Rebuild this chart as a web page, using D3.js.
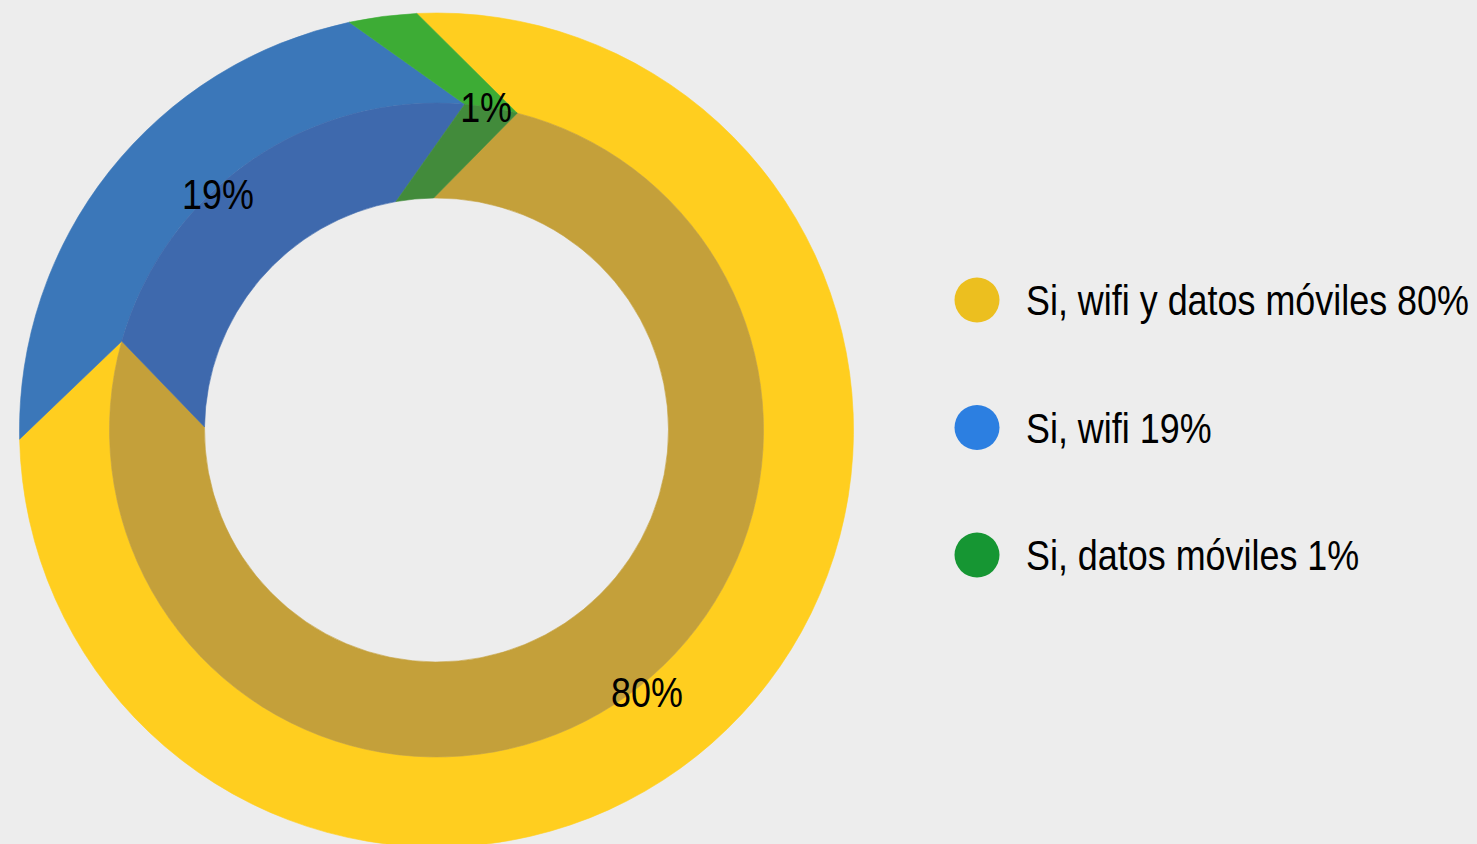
<!DOCTYPE html>
<html>
<head>
<meta charset="utf-8">
<script src="https://cdn.jsdelivr.net/npm/d3@7/dist/d3.min.js"></script>
<style>
  html, body { margin: 0; padding: 0; background: #ededed; }
  svg { display: block; }
  text { font-family: "Liberation Sans", Arial, sans-serif; }
</style>
</head>
<body>
<svg id="chart" width="1477" height="844"></svg>
<script>
// ---- data ----
const categories = ["Si, wifi y datos móviles", "Si, wifi", "Si, datos móviles"];
const percentValues = [80, 19, 1];            // the reported percentages
const sliceShares = [75.4, 22.0, 2.6];        // sweep of each slice as drawn in the picture
// ---- style ----
const outerColors = ["#ffce1f", "#3b77b9", "#3dac35"];
const innerColors = ["#c4a03a", "#3e69ad", "#428b3b"];
const legendColors = ["#ecbf1f", "#2c7fe1", "#169633"];

const W = 1477, H = 844;
const cx = 436.5, cy = 430;
const R_OUT = 417, R_MID = 327, R_IN = 232;
const rad = d => d * Math.PI / 180;
const START = rad(-1.7);
// angular twist of slice edges at each radius
const TW_OUT = rad(-1), TW_MID = rad(16), TW_IN = rad(1);
const LABEL_TWIST = [7.2, 7.9, 15.1];
const LABEL_R = [336, 322, 327];
const FONT_SIZE = 43;
const CONDENSE = 0.835;   // narrow (condensed) face

const svg = d3.select("#chart");
const g = svg.append("g").attr("transform", `translate(${cx},${cy})`);

const pie = d3.pie().sort(null).value(d => d).startAngle(START).endAngle(START + 2 * Math.PI);
const arcs = pie(sliceShares);

function pt(r, a) { return [r * Math.sin(a), -r * Math.cos(a)]; }
function band(a0, a1, rA, twA, rB, twB) {
  const p = d3.path();
  const s = pt(rA, a0 + twA);
  p.moveTo(s[0], s[1]);
  p.arc(0, 0, rA, a0 + twA - Math.PI / 2, a1 + twA - Math.PI / 2, false);
  const e = pt(rB, a1 + twB);
  p.lineTo(e[0], e[1]);
  p.arc(0, 0, rB, a1 + twB - Math.PI / 2, a0 + twB - Math.PI / 2, true);
  p.closePath();
  return p.toString();
}

g.selectAll("path.outer").data(arcs).join("path")
  .attr("class", "outer")
  .attr("d", d => band(d.startAngle, d.endAngle, R_OUT, TW_OUT, R_MID, TW_MID))
  .attr("fill", (d, i) => outerColors[i])
  .attr("stroke", (d, i) => outerColors[i])
  .attr("stroke-width", 0.6);

g.selectAll("path.inner").data(arcs).join("path")
  .attr("class", "inner")
  .attr("d", d => band(d.startAngle, d.endAngle, R_MID, TW_MID, R_IN, TW_IN))
  .attr("fill", (d, i) => innerColors[i])
  .attr("stroke", (d, i) => innerColors[i])
  .attr("stroke-width", 0.6);

// slice labels
g.selectAll("g.lbl").data(arcs).join("g")
  .attr("class", "lbl")
  .attr("transform", (d, i) => {
    const a = (d.startAngle + d.endAngle) / 2 + rad(LABEL_TWIST[i]);
    const p = pt(LABEL_R[i], a);
    return `translate(${p[0]},${p[1]}) scale(${CONDENSE},1)`;
  })
  .append("text")
  .attr("text-anchor", "middle")
  .attr("dy", "0.35em")
  .attr("font-size", FONT_SIZE)
  .attr("fill", "#000")
  .text((d, i) => percentValues[i] + "%");

// legend
const legendY = d3.scalePoint().domain(categories).range([300, 555]);
const leg = svg.append("g");
const items = leg.selectAll("g").data(categories).join("g")
  .attr("transform", d => `translate(977,${legendY(d)})`);
items.append("circle").attr("r", 22.5).attr("fill", (d, i) => legendColors[i]);
items.append("g")
  .attr("transform", `translate(49,0) scale(${CONDENSE},1)`)
  .append("text")
  .attr("dy", "0.35em")
  .attr("font-size", FONT_SIZE)
  .attr("fill", "#000")
  .text((d, i) => `${d} ${percentValues[i]}%`);
</script>
</body>
</html>
